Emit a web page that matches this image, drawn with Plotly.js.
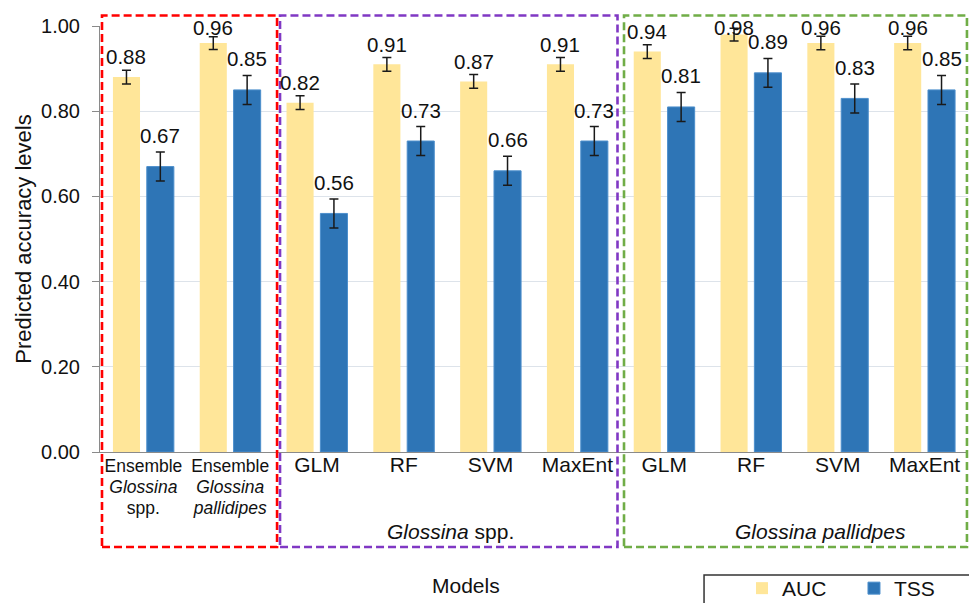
<!DOCTYPE html>
<html>
<head>
<meta charset="utf-8">
<script src="https://cdn.plot.ly/plotly-3.0.1.min.js"></script>
<style>
  html, body { margin: 0; padding: 0; background: #fff; }
  #chart { width: 969px; height: 603px; }
</style>
</head>
<body>
<div id="chart"></div>
<script>
// ---- Data ----
const categories = [
  'Ensemble Glossina spp.', 'Ensemble Glossina pallidipes',
  'GLM (Glossina spp.)', 'RF (Glossina spp.)', 'SVM (Glossina spp.)', 'MaxEnt (Glossina spp.)',
  'GLM (Glossina pallidpes)', 'RF (Glossina pallidpes)', 'SVM (Glossina pallidpes)', 'MaxEnt (Glossina pallidpes)'
];
const tickLabels = [
  'Ensemble<br><i>Glossina</i><br>spp.',
  'Ensemble<br><i>Glossina</i><br><i>pallidipes</i>',
  'GLM', 'RF', 'SVM', 'MaxEnt',
  'GLM', 'RF', 'SVM', 'MaxEnt'
];
const aucValues = [0.88, 0.96, 0.82, 0.91, 0.87, 0.91, 0.94, 0.98, 0.96, 0.96];
const aucErrors = [0.016, 0.015, 0.016, 0.016, 0.016, 0.016, 0.016, 0.015, 0.016, 0.016];
const tssValues = [0.67, 0.85, 0.56, 0.73, 0.66, 0.73, 0.81, 0.89, 0.83, 0.85];
const tssErrors = [0.034, 0.034, 0.034, 0.034, 0.034, 0.034, 0.034, 0.034, 0.034, 0.034];
const yTickValues = [0, 0.2, 0.4, 0.6, 0.8, 1.0];
const groupLabels = ['<i>Glossina</i> spp.', '<i>Glossina pallidpes</i>'];

// ---- Styling ----
const FONT = '"Liberation Sans", Arial, Helvetica, sans-serif';
const AUC_COLOR = '#FFE699';
const TSS_COLOR = '#2E75B6';

const styledTicks = tickLabels.map((t, i) =>
  i < 2 ? '<span style="font-size:17.5px">' + t.split('<br>').join('</span><br><span style="font-size:17.5px">') + '</span>'
        : '<span style="font-size:21px">' + t + '</span>');

const traces = [
  {
    type: 'bar', name: 'AUC', x: categories, y: aucValues,
    marker: { color: AUC_COLOR, line: { width: 0 } },
    error_y: { type: 'data', array: aucErrors, visible: true, color: '#1a1a1a', thickness: 1.5, width: 4.5 },
    hoverinfo: 'x+y'
  },
  {
    type: 'bar', name: 'TSS', x: categories, y: tssValues,
    marker: { color: TSS_COLOR, line: { width: 1, color: '#4d8fcc' } },
    error_y: { type: 'data', array: tssErrors, visible: true, color: '#1a1a1a', thickness: 1.5, width: 4.5 },
    hoverinfo: 'x+y'
  }
];

// value labels above the error bars
const annotations = [];
const LABEL_CAP = 0.965;
categories.forEach((c, i) => {
  annotations.push({
    x: c, y: Math.min(aucValues[i] + aucErrors[i], LABEL_CAP), xref: 'x', yref: 'y',
    text: aucValues[i].toFixed(2), showarrow: false, xshift: -17, yshift: 0,
    xanchor: 'center', yanchor: 'bottom', font: { family: FONT, size: 20.5, color: '#111' }
  });
  annotations.push({
    x: c, y: Math.min(tssValues[i] + tssErrors[i], LABEL_CAP), xref: 'x', yref: 'y',
    text: tssValues[i].toFixed(2), showarrow: false, xshift: 17, yshift: 3,
    xanchor: 'center', yanchor: 'bottom', font: { family: FONT, size: 20.5, color: '#111' }
  });
});
// group labels and x-axis title
const textNote = (x, y, text) => ({ x: x, y: y, xref: 'paper', yref: 'paper', text: text,
  showarrow: false, xanchor: 'center', yanchor: 'middle', font: { family: FONT, size: 21, color: '#111' } });
annotations.push(textNote(0.4038, -0.187, groupLabels[0]));
annotations.push(textNote(0.8295, -0.187, groupLabels[1]));
annotations.push(textNote(0.4217, -0.3138, 'Models'));

const dashBox = (x0, x1, color) => ({
  type: 'rect', xref: 'paper', yref: 'paper', x0: x0, x1: x1, y0: -0.223, y1: 1.0246,
  line: { color: color, width: 2.6, dash: '8px,4px' }, fillcolor: 'rgba(0,0,0,0)', layer: 'above'
});

const layout = {
  width: 969, height: 603,
  margin: { l: 100, r: 1, t: 26, b: 151, autoexpand: false },
  paper_bgcolor: '#fff', plot_bgcolor: '#fff',
  font: { family: FONT, color: '#111', size: 21 },
  barmode: 'group', bargap: 0.22, bargroupgap: 0.2,
  showlegend: true,
  legend: {
    orientation: 'h', x: 0.7396, y: -0.2723, xanchor: 'left', yanchor: 'top',
    xref: 'paper', yref: 'paper',
    font: { family: FONT, size: 21, color: '#111' },
    bgcolor: 'rgba(0,0,0,0)', borderwidth: 0, entrywidth: 67, entrywidthmode: 'pixels'
  },
  xaxis: {
    type: 'category', range: [-0.5, 9.5], fixedrange: true,
    tickmode: 'array', tickvals: categories, ticktext: styledTicks,
    tickfont: { family: FONT, size: 16, color: '#111' },
    tickangle: 0, ticks: '', showgrid: false, zeroline: false,
    showline: true, linecolor: '#8a8a8a', linewidth: 1.2
  },
  yaxis: {
    range: [0, 1.0], fixedrange: true,
    tickmode: 'array', tickvals: yTickValues, tickformat: '.2f',
    tickfont: { family: FONT, size: 20, color: '#111' },
    ticks: 'outside', ticklen: 7, tickcolor: '#8a8a8a', tickwidth: 1,
    ticklabelstandoff: 8,
    showline: true, linecolor: '#8a8a8a', linewidth: 1,
    showgrid: true, gridcolor: '#dde3ea', gridwidth: 1, zeroline: false,
    title: { text: 'Predicted accuracy levels', font: { family: FONT, size: 22, color: '#111' }, standoff: 3 }
  },
  annotations: annotations,
  shapes: [
    dashBox(0.0023, 0.204, '#FF0000'),
    dashBox(0.2074, 0.5962, '#8038C4'),
    dashBox(0.6037, 0.9988, '#70AD47'),
    { type: 'rect', xref: 'paper', yref: 'paper', x0: 0.6959, x1: 1.2, y0: -0.2887, y1: -0.45,
      line: { color: '#333', width: 1.5 }, fillcolor: 'rgba(0,0,0,0)' }
  ]
};

Plotly.newPlot('chart', traces, layout, { displayModeBar: false, staticPlot: true });
</script>
</body>
</html>
